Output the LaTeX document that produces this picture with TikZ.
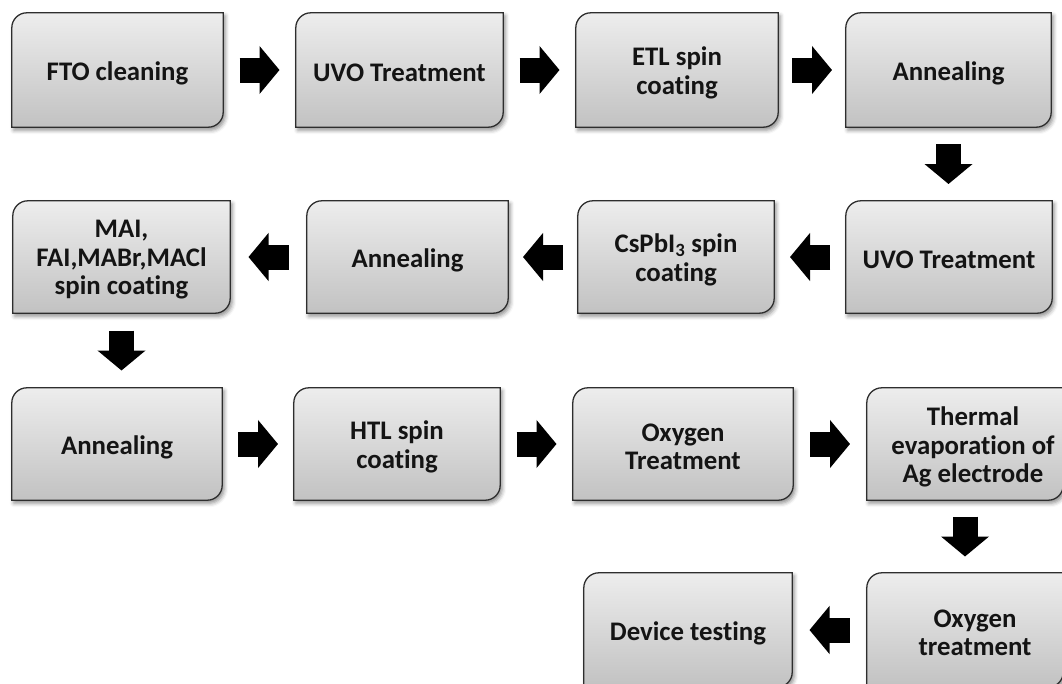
\documentclass[tikz,border=0pt]{standalone}
\usepackage{fontspec}
\setmainfont{Carlito}[Ligatures={NoCommon}]
\usetikzlibrary{arrows.meta,calc,shadows.blur}
\pgfdeclarelayer{bg}
\pgfsetlayers{bg,main}
\tikzset{
  boxframe/.style={inner sep=0pt},
  boxtext/.style={align=center, inner sep=0pt, text=black!92,
    font=\bfseries\fontsize{26.8}{28.5}\selectfont},
  boxshape/.style={draw=black!82, line width=1.3pt, top color=black!7, bottom color=black!24,
    blur shadow={shadow xshift=2pt, shadow yshift=-3pt, shadow blur radius=4pt, shadow opacity=45}},
  flow/.style={line width=25pt, black, -{Triangle[length=20pt,width=47pt]}}
}
% name, cx, cy, w, h, text, text x offset
\newcommand\stepbox[7]{%
  \node[boxframe, minimum width=#4pt, minimum height=#5pt] (#1) at (#2,#3) {};
  \node[boxtext] (#1-t) at ([xshift=#7pt,yshift=-3pt]#1.center) {#6};
  \begin{pgfonlayer}{bg}
  \path[boxshape] ([yshift=-15pt]#1.north west) arc[start angle=180,end angle=90,radius=15pt]
     -- (#1.north east) -- ([yshift=15pt]#1.south east) arc[start angle=0,end angle=-90,radius=15pt]
     -- (#1.south west) -- cycle;
  \end{pgfonlayer}}
\newcommand\harrow[2]{%
  \draw[flow] ($(#1.east)!0.5!(#2.west)+(-20pt,0)$) -- ($(#1.east)!0.5!(#2.west)+(20pt,0)$);}
\newcommand\larrow[2]{%
  \draw[flow] ($(#1.west)!0.5!(#2.east)+(20pt,0)$) -- ($(#1.west)!0.5!(#2.east)+(-20pt,0)$);}
\newcommand\darrow[2]{%
  \draw[flow] ($(#1.south)!0.5!(#1.south |- #2.north)+(0,20pt)$) -- ($(#1.south)!0.5!(#1.south |- #2.north)+(0,-20pt)$);}
\begin{document}
\begin{tikzpicture}[x=1pt,y=-1pt]
\useasboundingbox (0,0) rectangle (1062,683);
\clip (0,0) rectangle (1062,683);
% row 1
\stepbox{a1}{117.5}{70}{211}{114}{FTO cleaning}{0}
\stepbox{a2}{399.5}{70}{207}{114}{UVO Treatment}{0}
\stepbox{a3}{677}{70}{202}{114}{ETL spin\\coating}{0}
\stepbox{a4}{948.5}{70}{205}{114}{Annealing}{0}
% row 2
\stepbox{b4}{949}{257}{206}{112}{UVO Treatment}{0}
\stepbox{b3}{676}{257}{196}{112}{CsPbI\textsubscript{3} spin\\coating}{0}
\stepbox{b2}{407.5}{257}{201}{112}{Annealing}{0}
\stepbox{b1}{121.5}{257}{217}{112}{MAI,\\FAI,MABr,MACl\\spin coating}{0}
% row 3
\stepbox{c1}{117}{444}{210}{112}{Annealing}{0}
\stepbox{c2}{397}{444}{206}{112}{HTL spin\\coating}{0}
\stepbox{c3}{683}{444}{220}{112}{Oxygen\\Treatment}{0}
\stepbox{c4}{965}{444}{196}{112}{Thermal\\evaporation of\\Ag electrode}{8}
% row 4
\stepbox{d2}{965}{630}{196}{114}{Oxygen\\treatment}{10}
\stepbox{d1}{688}{630}{208}{114}{Device testing}{0}
% arrows
\harrow{a1}{a2}
\harrow{a2}{a3}
\harrow{a3}{a4}
\darrow{a4}{b4}
\larrow{b4}{b3}
\larrow{b3}{b2}
\larrow{b2}{b1}
\darrow{b1}{c1}
\harrow{c1}{c2}
\harrow{c2}{c3}
\harrow{c3}{c4}
\darrow{c4}{d2}
\larrow{d2}{d1}
\end{tikzpicture}
\end{document}
